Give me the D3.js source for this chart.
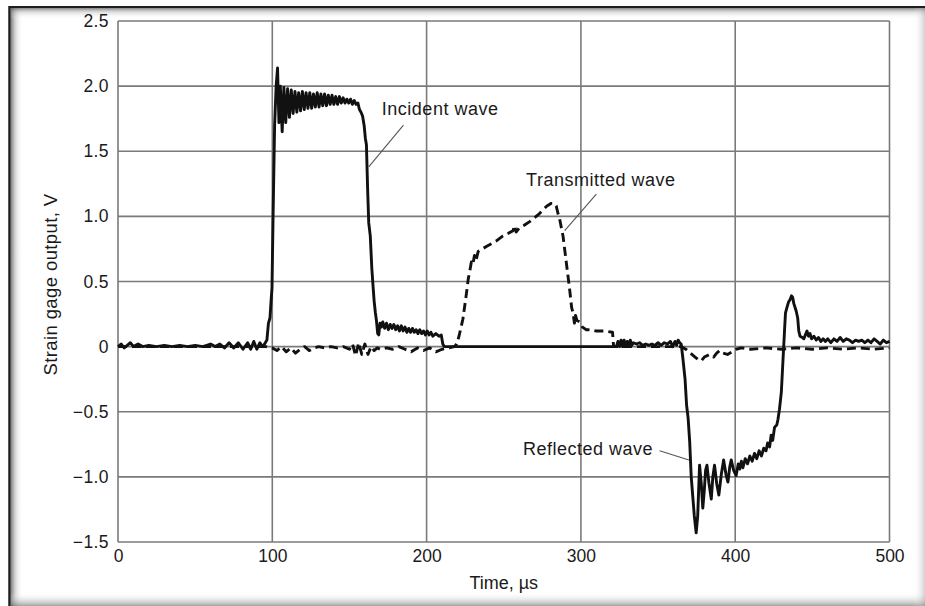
<!DOCTYPE html>
<html>
<head>
<meta charset="utf-8">
<script src="https://cdn.jsdelivr.net/npm/d3@7"></script>
<style>
  html, body { margin: 0; padding: 0; background: #fff; }
  svg { display: block; }
  text { font-family: "Liberation Sans", Arial, Helvetica, sans-serif; fill: #1a1a1a; }
</style>
</head>
<body>
<svg id="chart" width="925" height="606"></svg>
<script>
// Axis ticks
const timeTicks = [0, 100, 200, 300, 400, 500];
const voltTicks = [-1.5, -1.0, -0.5, 0, 0.5, 1.0, 1.5, 2.0, 2.5];
const voltTickLabels = ["\u22121.5", "\u22121.0", "\u22120.5", "0", "0.5", "1.0", "1.5", "2.0", "2.5"];

// Input-bar gauge: incident pulse followed by the reflected pulse [time µs, volts]
const inputBarTrace = [
  [0, 0.0], [2, 0.02], [4, -0.01], [6, 0.01], [8, 0.03], [10, 0.0], [13, 0.02], [16, 0.0],
  [20, 0.01], [25, 0.0], [30, 0.01], [35, 0.0], [40, 0.01], [45, 0.0], [50, 0.01], [55, 0.0],
  [60, 0.02], [63, 0.0], [66, 0.02], [69, -0.01], [72, 0.03], [75, -0.01], [78, 0.03],
  [81, -0.02], [84, 0.03], [86, -0.02], [88, 0.04], [90, -0.02], [92, 0.03], [93.5, 0.0],
  [95, 0.02], [96.5, 0.05], [97.5, 0.18], [98.5, 0.22], [99.2, 0.35], [99.8, 0.45],
  [100.5, 1.0], [101.5, 1.7], [102.5, 2.0], [103.4, 2.14], [104.3, 1.72], [105.2, 2.0],
  [106.4, 1.65], [107.5, 1.99], [108.7, 1.72], [109.9, 1.98], [111.1, 1.76], [112.3, 1.97],
  [113.5, 1.79], [114.7, 1.96], [115.9, 1.80], [117.1, 1.95], [118.3, 1.81], [119.5, 1.96],
  [120.7, 1.82], [121.9, 1.95], [123.1, 1.83], [124.3, 1.95], [125.5, 1.83], [126.7, 1.94],
  [127.9, 1.84], [129.1, 1.95], [130.3, 1.84], [131.5, 1.94], [132.7, 1.85], [133.9, 1.94],
  [135.1, 1.85], [136.3, 1.93], [137.5, 1.86], [138.7, 1.93], [139.9, 1.86], [141.1, 1.92],
  [142.3, 1.86], [143.5, 1.92], [144.7, 1.87], [145.9, 1.91], [147.1, 1.87], [148.3, 1.90],
  [149.5, 1.87], [150.7, 1.90], [151.9, 1.86], [153.1, 1.89], [154.3, 1.86], [155.5, 1.87],
  [156.5, 1.82], [157.5, 1.8], [158.5, 1.77], [159.5, 1.7],
  [160.3, 1.6], [161, 1.55], [161.8, 1.2], [162.5, 0.95], [163.5, 0.85], [164.5, 0.6],
  [165.2, 0.48], [166, 0.35], [166.8, 0.26], [167.5, 0.2], [168.3, 0.1], [169, 0.09],
  [169.8, 0.18], [170.7, 0.15], [171.6, 0.19], [172.8, 0.14], [174, 0.18], [175.2, 0.13],
  [176.4, 0.17], [177.6, 0.14], [178.8, 0.17], [180, 0.13], [181.2, 0.16], [182.4, 0.12],
  [183.6, 0.16], [184.8, 0.12], [186, 0.15], [187.2, 0.11], [188.4, 0.14], [189.6, 0.11],
  [190.8, 0.14], [192, 0.11], [193.2, 0.13], [194.4, 0.10], [195.6, 0.13], [196.8, 0.10],
  [198, 0.12], [199.2, 0.09], [200.4, 0.12], [201.6, 0.09], [202.8, 0.11], [204, 0.08],
  [206, 0.1], [208, 0.08], [209.5, 0.09], [210.5, 0.02], [211.5, 0.0],
  [260, 0.0], [323, 0.0], [324, 0.04], [325, 0.0], [326, 0.05], [327, 0.0], [328, 0.05],
  [329, 0.0], [330, 0.04], [331, 0.01], [332, 0.05], [333, 0.01], [334, 0.03], [336, 0.02],
  [338, 0.03], [340, 0.01], [342, 0.02], [344, 0.01], [346, 0.02], [348, 0.01], [350, 0.03],
  [352, 0.01], [354, 0.03], [356, 0.02], [358, 0.04], [359.5, 0.0], [361, 0.04], [362, 0.01],
  [363, 0.05], [364, 0.03], [365, 0.02], [366, -0.08], [367.5, -0.25], [368.5, -0.45],
  [369.5, -0.55], [370.5, -0.73], [371.5, -1.0], [372.5, -1.15], [373.5, -1.3], [374.7, -1.43],
  [375.7, -1.3], [376.9, -0.91], [378, -1.05], [379, -1.24], [380, -1.1], [380.8, -0.95],
  [381.7, -0.91], [383, -1.05], [384.5, -1.17], [385.5, -1.0], [386.6, -0.91], [388, -1.05],
  [389.4, -1.14], [391, -0.98], [392.5, -0.87], [394, -0.98], [395.3, -1.04], [396.5, -0.92],
  [397.4, -0.87], [399, -0.95], [400.6, -0.99], [402, -0.9], [403, -0.94], [404, -0.88],
  [405, -0.93], [406.5, -0.86], [408, -0.9], [409.5, -0.84], [411, -0.88], [412.5, -0.82],
  [414, -0.86], [415.5, -0.8], [417, -0.84], [418.5, -0.78], [420, -0.8], [421, -0.74],
  [422.3, -0.77], [423.3, -0.68], [424.3, -0.72], [425.5, -0.62], [427, -0.6], [427.7, -0.56],
  [428.7, -0.48], [429.9, -0.35], [430.9, -0.12], [432, 0.13], [432.6, 0.26], [433.5, 0.3],
  [434.5, 0.34], [435.5, 0.36], [436.5, 0.39], [437.2, 0.38], [438, 0.33], [438.8, 0.3],
  [439.6, 0.27], [440.5, 0.22], [441.2, 0.12], [442, 0.08], [443.5, 0.07], [444.5, 0.06],
  [445.5, 0.09], [446.5, 0.12], [447.5, 0.08], [448.5, 0.10], [449.5, 0.06], [451, 0.08],
  [452.5, 0.05], [454, 0.07], [455.5, 0.04], [457, 0.06], [458.5, 0.04], [460, 0.06],
  [462, 0.03], [464, 0.06], [466, 0.04], [468, 0.07], [470, 0.04], [472, 0.06], [474, 0.05],
  [476, 0.03], [478, 0.05], [480, 0.04], [482, 0.05], [484, 0.03], [486, 0.05], [488, 0.03],
  [490, 0.06], [492, 0.04], [494, 0.02], [496, 0.05], [498, 0.03], [500, 0.04]
];

// Output-bar gauge: transmitted pulse [time µs, volts]
const outputBarTrace = [
  [0, 0.0], [96, 0.0], [100, -0.01], [103, -0.03], [106, 0.0], [109, -0.04], [112, -0.01],
  [115, -0.05], [118, -0.02], [121, 0.0], [124, -0.03], [127, -0.01], [130, 0.0], [134, -0.01],
  [138, 0.0], [142, -0.01], [146, 0.0], [150, -0.02], [152, 0.02], [154, -0.07], [156, 0.03],
  [158, -0.06], [160, 0.02], [162, -0.06], [164, 0.0], [166, -0.03], [168, -0.01], [170, -0.02],
  [174, -0.01], [178, -0.02], [182, 0.0], [186, -0.02], [190, -0.04], [194, -0.01], [198, -0.03],
  [202, -0.01], [206, -0.04], [210, -0.02], [214, -0.01], [218, 0.0], [219.5, 0.02], [221, 0.08],
  [223.5, 0.21], [225.5, 0.38], [227, 0.52], [228, 0.58], [229, 0.65], [230, 0.63], [231, 0.70],
  [232, 0.66], [233.4, 0.73], [236, 0.75], [239, 0.77], [242, 0.79], [245, 0.81], [249.5, 0.85],
  [253, 0.87], [256, 0.89], [257, 0.93], [258, 0.88], [260, 0.91], [263, 0.93], [266.8, 0.96],
  [270, 0.99], [273, 1.02], [275.4, 1.05], [278, 1.08], [280.8, 1.10], [282.5, 1.10],
  [284, 1.08], [285.2, 1.02], [286.2, 0.98], [288.4, 0.85], [290.5, 0.65], [292.7, 0.44],
  [294, 0.3], [294.9, 0.26], [295.8, 0.18], [296.5, 0.24], [297.5, 0.2], [299.2, 0.19],
  [301, 0.15], [303.5, 0.13], [306, 0.13], [310, 0.12], [315, 0.12], [320.5, 0.11], [321.2, 0.0],
  [365, 0.0], [368, -0.02], [371, -0.05], [374, -0.08], [376, -0.1], [378, -0.11], [380, -0.08],
  [383.4, -0.06], [386, -0.08], [388, -0.05], [390, -0.03], [392, -0.05], [395, -0.06],
  [398, -0.04], [400.6, -0.02], [404, -0.01], [410, -0.02], [420, -0.01], [430, -0.02],
  [440, -0.01], [450, -0.02], [460, -0.01], [470, -0.02], [480, -0.01], [490, -0.02], [500, -0.01]
];

// Callouts: label, text anchor point and leader line ends, all in data units
const callouts = [
  { label: "Incident wave",    text: [171, 1.83], from: [185, 1.70], to: [162.5, 1.38] },
  { label: "Transmitted wave", text: [264.5, 1.28], from: [310, 1.17], to: [289.5, 0.89] },
  { label: "Reflected wave",   text: [262.5, -0.78], from: [351, -0.80], to: [370, -0.87] }
];

const svg = d3.select("#chart");
const W = 925, H = 606;
const plot = { left: 118, right: 889.5, top: 21, bottom: 542 };
const FONT = '"Liberation Sans", Arial, Helvetica, sans-serif';

const x = d3.scaleLinear().domain([0, 500]).range([plot.left, plot.right]);
const y = d3.scaleLinear().domain([-1.5, 2.5]).range([plot.bottom, plot.top]);

// Picture frame with soft inner shadows
const defs = svg.append("defs");
function grad(id, x1, y1, x2, y2, stops) {
  const g = defs.append("linearGradient").attr("id", id)
    .attr("x1", x1).attr("y1", y1).attr("x2", x2).attr("y2", y2);
  stops.forEach(s => g.append("stop").attr("offset", s[0]).attr("stop-color", s[1]).attr("stop-opacity", s[2]));
}
grad("shLeft", 0, 0, 1, 0, [[0, "#555", 0.75], [0.4, "#999", 0.35], [1, "#fff", 0]]);
grad("shTop", 0, 0, 0, 1, [[0, "#555", 0.7], [0.4, "#999", 0.3], [1, "#fff", 0]]);
grad("shBottom", 0, 1, 0, 0, [[0, "#666", 0.6], [0.5, "#bbb", 0.3], [1, "#fff", 0]]);
grad("shRight", 1, 0, 0, 0, [[0, "#999", 0.45], [1, "#fff", 0]]);

svg.append("rect").attr("width", W).attr("height", H).attr("fill", "#fff");
svg.append("rect").attr("x", 11).attr("y", 8).attr("width", 12).attr("height", H - 8).attr("fill", "url(#shLeft)");
svg.append("rect").attr("x", 11).attr("y", 8).attr("width", W - 11).attr("height", 11).attr("fill", "url(#shTop)");
svg.append("rect").attr("x", 11).attr("y", 592).attr("width", W - 11).attr("height", 14).attr("fill", "url(#shBottom)");
svg.append("rect").attr("x", 913).attr("y", 8).attr("width", 12).attr("height", H - 8).attr("fill", "url(#shRight)");
svg.append("line").attr("x1", 9.5).attr("x2", 9.5).attr("y1", 6).attr("y2", H).attr("stroke", "#1e1e1e").attr("stroke-width", 2.5);
svg.append("line").attr("x1", 9).attr("x2", W).attr("y1", 7).attr("y2", 7).attr("stroke", "#1e1e1e").attr("stroke-width", 2);

// Grid
const grid = svg.append("g").attr("stroke", "#7a7a7a").attr("stroke-width", 1.6);
grid.selectAll("line.v").data(timeTicks).join("line").attr("class", "v")
  .attr("x1", d => x(d)).attr("x2", d => x(d)).attr("y1", plot.top).attr("y2", plot.bottom);
grid.selectAll("line.h").data(voltTicks).join("line").attr("class", "h")
  .attr("x1", plot.left).attr("x2", plot.right).attr("y1", d => y(d)).attr("y2", d => y(d));

// Axes (labels only; the grid forms the frame)
const xAxis = d3.axisBottom(x).tickValues(timeTicks).tickSize(0).tickPadding(8).tickFormat(d3.format("d"));
const gx = svg.append("g").attr("transform", `translate(0,${plot.bottom})`).call(xAxis);
gx.select(".domain").remove();
gx.selectAll("text").attr("font-size", 17.5).attr("fill", "#1a1a1a").attr("font-family", FONT);

const yAxis = d3.axisLeft(y).tickValues(voltTicks).tickSize(0).tickPadding(9)
  .tickFormat((d, i) => voltTickLabels[i]);
const gy = svg.append("g").attr("transform", `translate(${plot.left},0)`).call(yAxis);
gy.select(".domain").remove();
gy.selectAll("text").attr("font-size", 17.5).attr("fill", "#1a1a1a").attr("font-family", FONT)
  .attr("letter-spacing", 0.4);

// Axis titles
svg.append("text").attr("x", (plot.left + plot.right) / 2).attr("y", 589)
  .attr("text-anchor", "middle").attr("font-size", 18).text("Time, \u00b5s");
svg.append("text").attr("transform", `translate(57,${(plot.top + plot.bottom) / 2 + 3}) rotate(-90)`)
  .attr("text-anchor", "middle").attr("font-size", 18.5).attr("letter-spacing", 0.4)
  .text("Strain gage output, V");

// Traces
const line = d3.line().x(d => x(d[0])).y(d => y(d[1])).curve(d3.curveLinear);
svg.append("path").datum(outputBarTrace).attr("d", line)
  .attr("fill", "none").attr("stroke", "#111").attr("stroke-width", 2.9)
  .attr("stroke-dasharray", "9,5").attr("stroke-linejoin", "round");
svg.append("path").datum(inputBarTrace).attr("d", line)
  .attr("fill", "none").attr("stroke", "#111").attr("stroke-width", 2.9)
  .attr("stroke-linejoin", "round");

// Callouts
const cg = svg.append("g");
callouts.forEach(c => {
  cg.append("line").attr("x1", x(c.from[0])).attr("y1", y(c.from[1]))
    .attr("x2", x(c.to[0])).attr("y2", y(c.to[1]))
    .attr("stroke", "#555").attr("stroke-width", 1.1);
  cg.append("text").attr("x", x(c.text[0])).attr("y", y(c.text[1]))
    .attr("dy", "0.35em").attr("font-size", 18).attr("letter-spacing", 0.5).text(c.label);
});
</script>
</body>
</html>
